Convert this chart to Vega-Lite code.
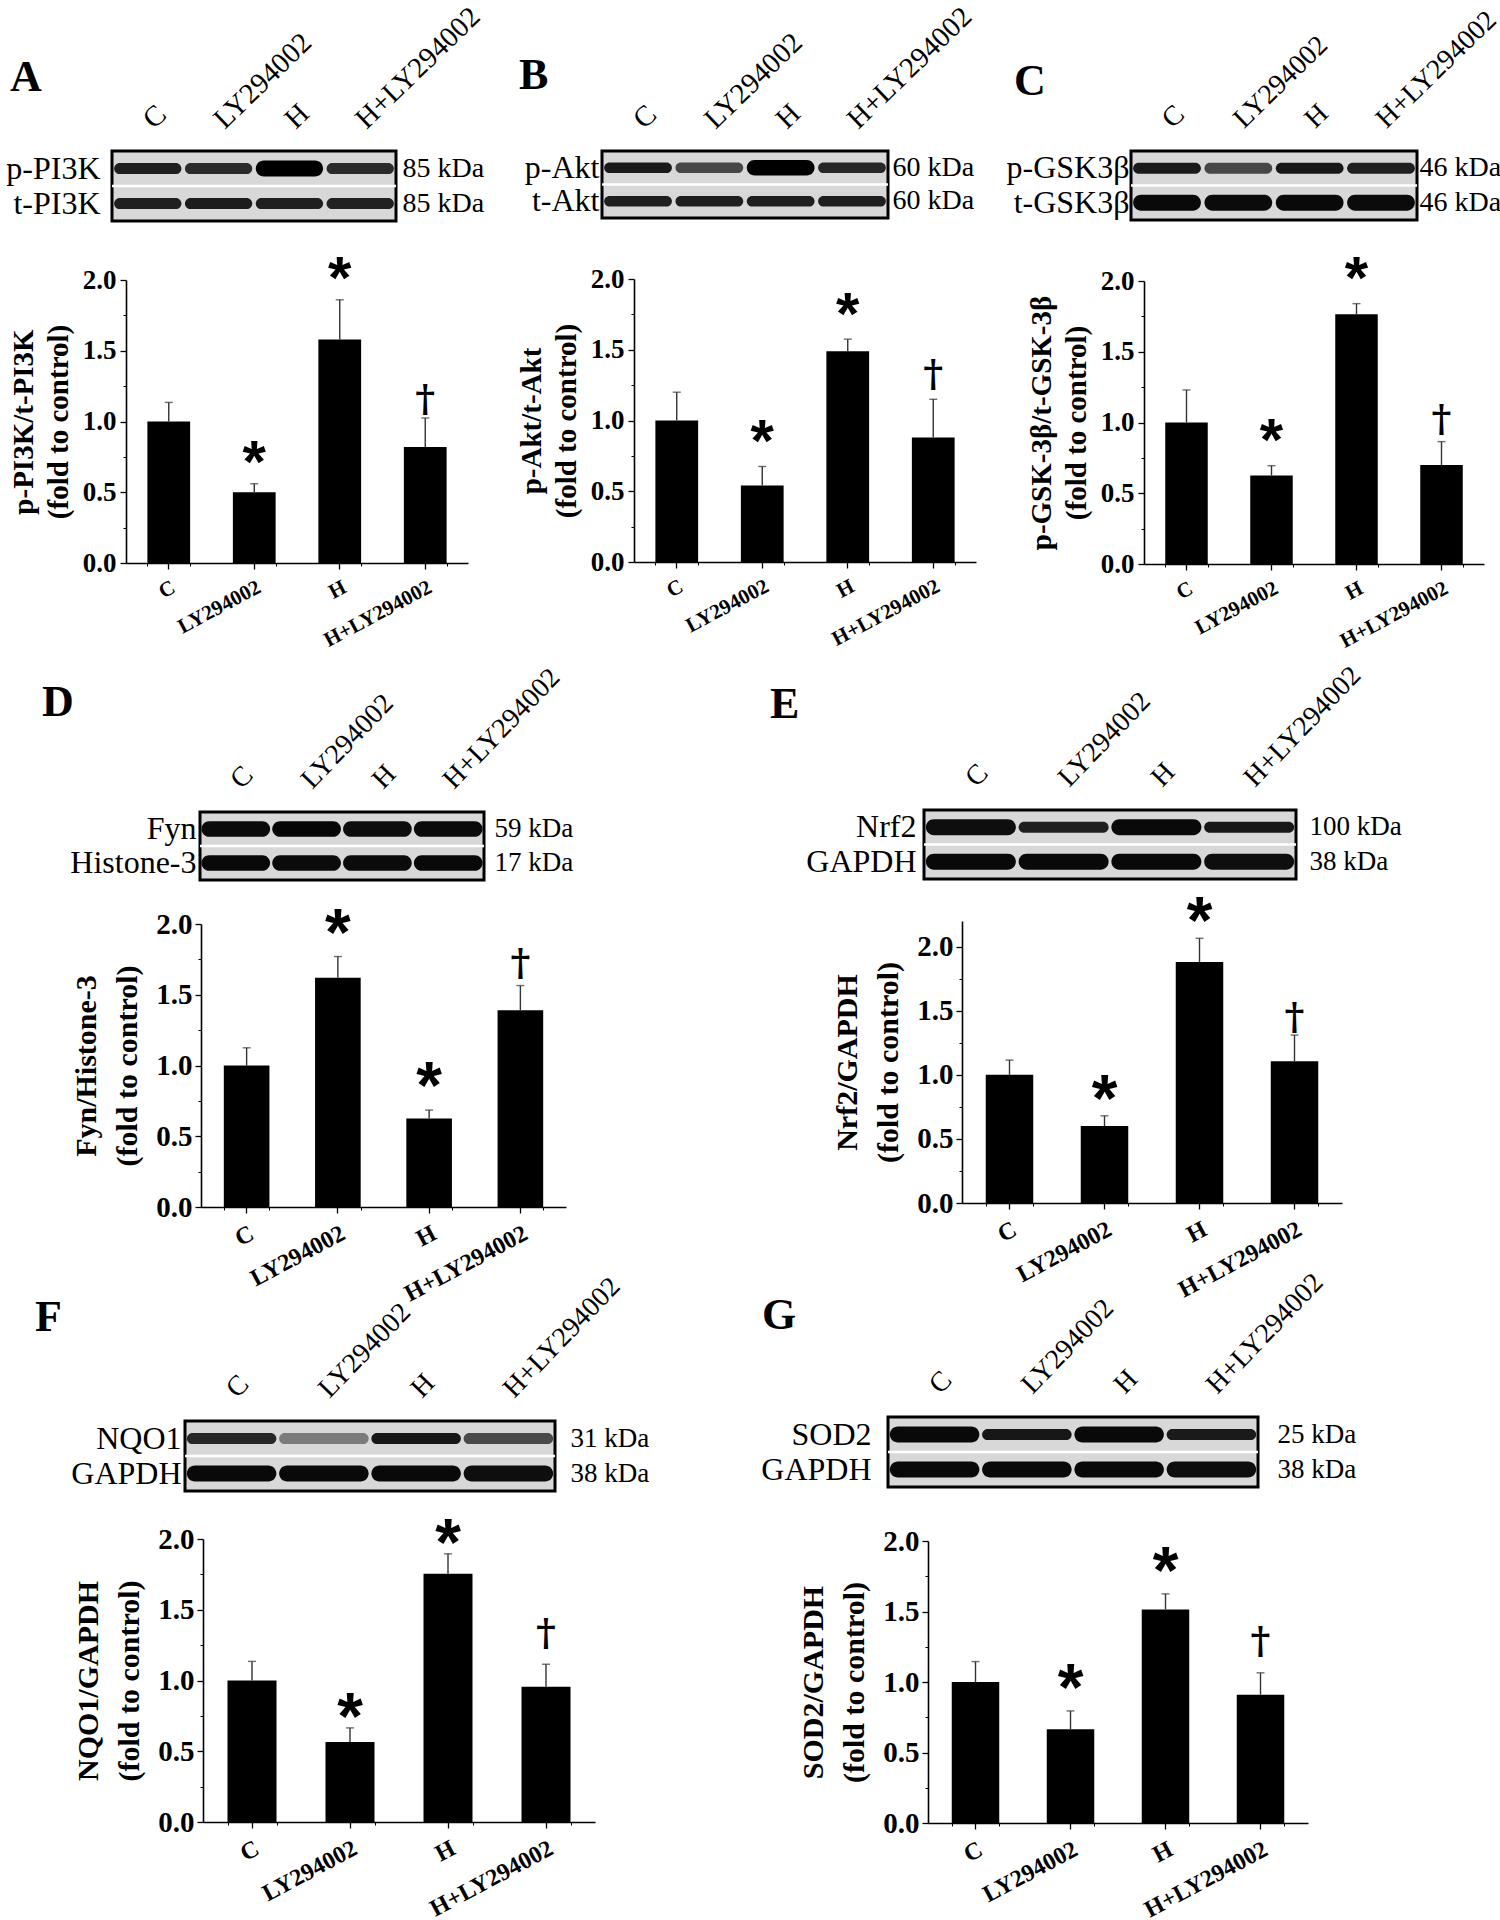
{
"$schema":"https://vega.github.io/schema/vega-lite/v6.json",
"background":"white",
"padding":{"left":4,"top":0,"right":0,"bottom":0},
"config":{"view":{"stroke":null},"font":"Liberation Serif","axis":{"labelFont":"Liberation Serif","titleFont":"Liberation Serif","labelColor":"black","titleColor":"black","domainColor":"black","tickColor":"black","grid":false},"title":{"font":"Liberation Serif","color":"black"}},
"datasets":{
"bars":[
{"p":"A","g":"C","v":1.0,"e":1.135,"s":""},{"p":"A","g":"LY294002","v":0.50,"e":0.56,"s":"*"},{"p":"A","g":"H","v":1.58,"e":1.86,"s":"*"},{"p":"A","g":"H+LY294002","v":0.82,"e":1.025,"s":"†"},
{"p":"B","g":"C","v":1.0,"e":1.20,"s":""},{"p":"B","g":"LY294002","v":0.54,"e":0.675,"s":"*"},{"p":"B","g":"H","v":1.49,"e":1.575,"s":"*"},{"p":"B","g":"H+LY294002","v":0.88,"e":1.15,"s":"†"},
{"p":"C","g":"C","v":1.0,"e":1.23,"s":""},{"p":"C","g":"LY294002","v":0.625,"e":0.695,"s":"*"},{"p":"C","g":"H","v":1.765,"e":1.84,"s":"*"},{"p":"C","g":"H+LY294002","v":0.70,"e":0.865,"s":"†"},
{"p":"D","g":"C","v":1.0,"e":1.125,"s":""},{"p":"D","g":"LY294002","v":1.62,"e":1.77,"s":"*"},{"p":"D","g":"H","v":0.625,"e":0.685,"s":"*"},{"p":"D","g":"H+LY294002","v":1.39,"e":1.565,"s":"†"},
{"p":"E","g":"C","v":1.0,"e":1.115,"s":""},{"p":"E","g":"LY294002","v":0.60,"e":0.68,"s":"*"},{"p":"E","g":"H","v":1.88,"e":2.065,"s":"*"},{"p":"E","g":"H+LY294002","v":1.105,"e":1.31,"s":"†"},
{"p":"F","g":"C","v":1.0,"e":1.135,"s":""},{"p":"F","g":"LY294002","v":0.565,"e":0.665,"s":"*"},{"p":"F","g":"H","v":1.755,"e":1.895,"s":"*"},{"p":"F","g":"H+LY294002","v":0.955,"e":1.115,"s":"†"},
{"p":"G","g":"C","v":1.0,"e":1.145,"s":""},{"p":"G","g":"LY294002","v":0.665,"e":0.795,"s":"*"},{"p":"G","g":"H","v":1.515,"e":1.625,"s":"*"},{"p":"G","g":"H+LY294002","v":0.91,"e":1.065,"s":"†"}
],
"blots":[
{"p":"A","r":"p-PI3K","l":"C","i":0.85},{"p":"A","r":"p-PI3K","l":"LY294002","i":0.78},{"p":"A","r":"p-PI3K","l":"H","i":1.0},{"p":"A","r":"p-PI3K","l":"H+LY294002","i":0.78},
{"p":"A","r":"t-PI3K","l":"C","i":0.85},{"p":"A","r":"t-PI3K","l":"LY294002","i":0.87},{"p":"A","r":"t-PI3K","l":"H","i":0.85},{"p":"A","r":"t-PI3K","l":"H+LY294002","i":0.84},
{"p":"B","r":"p-Akt","l":"C","i":0.88},{"p":"B","r":"p-Akt","l":"LY294002","i":0.62},{"p":"B","r":"p-Akt","l":"H","i":1.0},{"p":"B","r":"p-Akt","l":"H+LY294002","i":0.8},
{"p":"B","r":"t-Akt","l":"C","i":0.85},{"p":"B","r":"t-Akt","l":"LY294002","i":0.85},{"p":"B","r":"t-Akt","l":"H","i":0.85},{"p":"B","r":"t-Akt","l":"H+LY294002","i":0.85},
{"p":"C","r":"p-GSK3β","l":"C","i":0.88},{"p":"C","r":"p-GSK3β","l":"LY294002","i":0.62},{"p":"C","r":"p-GSK3β","l":"H","i":0.9},{"p":"C","r":"p-GSK3β","l":"H+LY294002","i":0.85},
{"p":"C","r":"t-GSK3β","l":"C","i":0.97},{"p":"C","r":"t-GSK3β","l":"LY294002","i":0.96},{"p":"C","r":"t-GSK3β","l":"H","i":0.97},{"p":"C","r":"t-GSK3β","l":"H+LY294002","i":0.96},
{"p":"D","r":"Fyn","l":"C","i":0.96},{"p":"D","r":"Fyn","l":"LY294002","i":0.98},{"p":"D","r":"Fyn","l":"H","i":0.95},{"p":"D","r":"Fyn","l":"H+LY294002","i":0.96},
{"p":"D","r":"Histone-3","l":"C","i":0.97},{"p":"D","r":"Histone-3","l":"LY294002","i":0.96},{"p":"D","r":"Histone-3","l":"H","i":0.96},{"p":"D","r":"Histone-3","l":"H+LY294002","i":0.97},
{"p":"E","r":"Nrf2","l":"C","i":0.95},{"p":"E","r":"Nrf2","l":"LY294002","i":0.85},{"p":"E","r":"Nrf2","l":"H","i":0.97},{"p":"E","r":"Nrf2","l":"H+LY294002","i":0.9},
{"p":"E","r":"GAPDH","l":"C","i":0.97},{"p":"E","r":"GAPDH","l":"LY294002","i":0.97},{"p":"E","r":"GAPDH","l":"H","i":0.97},{"p":"E","r":"GAPDH","l":"H+LY294002","i":0.95},
{"p":"F","r":"NQO1","l":"C","i":0.8},{"p":"F","r":"NQO1","l":"LY294002","i":0.35},{"p":"F","r":"NQO1","l":"H","i":0.9},{"p":"F","r":"NQO1","l":"H+LY294002","i":0.6},
{"p":"F","r":"GAPDH","l":"C","i":0.97},{"p":"F","r":"GAPDH","l":"LY294002","i":0.97},{"p":"F","r":"GAPDH","l":"H","i":0.97},{"p":"F","r":"GAPDH","l":"H+LY294002","i":0.95},
{"p":"G","r":"SOD2","l":"C","i":0.97},{"p":"G","r":"SOD2","l":"LY294002","i":0.9},{"p":"G","r":"SOD2","l":"H","i":0.97},{"p":"G","r":"SOD2","l":"H+LY294002","i":0.88},
{"p":"G","r":"GAPDH","l":"C","i":0.97},{"p":"G","r":"GAPDH","l":"LY294002","i":0.97},{"p":"G","r":"GAPDH","l":"H","i":0.97},{"p":"G","r":"GAPDH","l":"H+LY294002","i":0.95}
]},
"bounds":"flush",
"spacing":659,
"vconcat":[
{"bounds":"flush","spacing":490,"hconcat":[
 {"bounds":"flush","spacing":59,"vconcat":[
  {"width":284,"height":70,
   "title":{"text":"A","anchor":"start","frame":"group","dx":-102,"offset":-133,"fontSize":44,"fontWeight":"bold","baseline":"alphabetic"},
   "view":{"fill":"#d8d8d8","stroke":"black","strokeWidth":3},
   "layer":[
    {"data":{"name":"blots"},"transform":[{"filter":"datum.p=='A' && datum.i<0.95"}],
     "mark":{"type":"rect","height":{"band":0.32},"cornerRadius":6},
     "encoding":{
      "x":{"field":"l","type":"nominal","scale":{"domain":["C","LY294002","H","H+LY294002"],"paddingInner":0.05,"paddingOuter":0.03},"axis":{"orient":"top","title":null,"ticks":false,"domain":false,"labelAngle":-44,"labelAlign":"left","labelBaseline":"middle","labelFontSize":29,"labelPadding":28}},
      "y":{"field":"r","type":"nominal","scale":{"domain":["p-PI3K","t-PI3K"],"paddingInner":0,"paddingOuter":0},"axis":{"orient":"left","title":null,"ticks":false,"domain":false,"labelFontSize":32,"labelPadding":12}},
      "color":{"field":"i","type":"quantitative","scale":{"domain":[0,1],"range":["#c4c4c4","#000000"]},"legend":null}}},
    {"data":{"name":"blots"},"transform":[{"filter":"datum.p=='A' && datum.i>=0.95"}],
     "mark":{"type":"rect","height":{"band":0.46},"cornerRadius":8},
     "encoding":{"x":{"field":"l","type":"nominal"},"y":{"field":"r","type":"nominal","axis":null},"color":{"field":"i","type":"quantitative","legend":null}}},
    {"data":{"values":[{"r":"p-PI3K"}]},
     "mark":{"type":"rule","color":"white","strokeWidth":2.5},
     "encoding":{"y":{"field":"r","type":"nominal","bandPosition":1,"scale":{"domain":["p-PI3K","t-PI3K"],"paddingInner":0,"paddingOuter":0},"axis":{"orient":"right","title":null,"ticks":false,"domain":false,"labelFontSize":28,"labelPadding":6,"labelExpr":"'85 kDa'"}}}}],
   "resolve":{"axis":{"y":"independent"}}},
  {"width":356,"height":283,"data":{"name":"bars"},"transform":[{"filter":"datum.p=='A'"}],
   "encoding":{"x":{"field":"g","type":"nominal","scale":{"domain":["C","LY294002","H","H+LY294002"],"range":[14,356],"paddingInner":0.5,"paddingOuter":0.25},"axis":null}},
   "layer":[
    {"mark":{"type":"bar","color":"black"},
     "encoding":{
      "x":{"field":"g","type":"nominal","axis":{"orient":"bottom","title":null,"labelAngle":-28,"labelAlign":"right","labelBaseline":"top","labelFontSize":21,"labelFontWeight":"bold","tickSize":6,"tickWidth":1.3,"labelPadding":7,"domainWidth":1.6}},
      "y":{"field":"v","type":"quantitative","scale":{"domain":[0,2],"nice":false},"axis":{"orient":"left","offset":-14,"values":[0,0.5,1,1.5,2],"format":".1f","title":["p-PI3K/t-PI3K","(fold to control)"],"titleFontSize":29,"titleFontWeight":"bold","titleLineHeight":35,"titlePadding":9,"labelFontSize":27,"labelFontWeight":"bold","tickSize":6,"tickWidth":1.3,"labelPadding":4,"domainWidth":1.6}}}},
    {"mark":{"type":"rule","color":"#333","strokeWidth":1.4},
     "encoding":{
      "x":{"field":"g","type":"nominal","axis":{"orient":"bottom","tickBand":"extent","labels":false,"domain":false,"tickSize":3,"tickWidth":1,"title":null}},
      "y":{"field":"v","type":"quantitative","axis":{"orient":"left","offset":-14,"values":[0.25,0.75,1.25,1.75],"labels":false,"domain":false,"tickSize":3,"tickWidth":1,"title":null}},
      "y2":{"field":"e"}}},
    {"mark":{"type":"tick","color":"#333","thickness":1.4,"size":8},"encoding":{"y":{"field":"e","type":"quantitative","axis":null}}},
    {"transform":[{"filter":"datum.s=='*'"}],"mark":{"type":"text","font":"Liberation Sans","fontWeight":"bold","fontSize":60,"baseline":"alphabetic","dy":-2,"color":"black"},"encoding":{"y":{"field":"e","type":"quantitative","axis":null},"text":{"field":"s"}}},
    {"transform":[{"filter":"datum.s=='†'"}],"mark":{"type":"text","font":"DejaVu Serif","fontWeight":"bold","fontSize":38,"baseline":"alphabetic","dy":-7,"color":"black"},"encoding":{"y":{"field":"e","type":"quantitative","axis":null},"text":{"field":"s"}}}],
   "resolve":{"axis":{"x":"independent","y":"independent"}}}
 ]},
 {"bounds":"flush","spacing":529,"hconcat":[
  {"bounds":"flush","spacing":61,"vconcat":[
   {"width":286,"height":67,
    "title":{"text":"B","anchor":"start","frame":"group","dx":-83,"offset":-131,"fontSize":44,"fontWeight":"bold","baseline":"alphabetic"},
    "view":{"fill":"#d8d8d8","stroke":"black","strokeWidth":3},
    "layer":[
     {"data":{"name":"blots"},"transform":[{"filter":"datum.p=='B' && datum.i<0.95"}],
      "mark":{"type":"rect","height":{"band":0.32},"cornerRadius":6},
      "encoding":{
       "x":{"field":"l","type":"nominal","scale":{"domain":["C","LY294002","H","H+LY294002"],"paddingInner":0.05,"paddingOuter":0.03},"axis":{"orient":"top","title":null,"ticks":false,"domain":false,"labelAngle":-44,"labelAlign":"left","labelBaseline":"middle","labelFontSize":29,"labelPadding":28}},
       "y":{"field":"r","type":"nominal","scale":{"domain":["p-Akt","t-Akt"],"paddingInner":0,"paddingOuter":0},"axis":{"orient":"left","title":null,"ticks":false,"domain":false,"labelFontSize":32,"labelPadding":3}},
       "color":{"field":"i","type":"quantitative","scale":{"domain":[0,1],"range":["#c4c4c4","#000000"]},"legend":null}}},
     {"data":{"name":"blots"},"transform":[{"filter":"datum.p=='B' && datum.i>=0.95"}],
      "mark":{"type":"rect","height":{"band":0.46},"cornerRadius":8},
      "encoding":{"x":{"field":"l","type":"nominal"},"y":{"field":"r","type":"nominal","axis":null},"color":{"field":"i","type":"quantitative","legend":null}}},
     {"data":{"values":[{"r":"p-Akt"}]},
      "mark":{"type":"rule","color":"white","strokeWidth":2.5},
      "encoding":{"y":{"field":"r","type":"nominal","bandPosition":1,"scale":{"domain":["p-Akt","t-Akt"],"paddingInner":0,"paddingOuter":0},"axis":{"orient":"right","title":null,"ticks":false,"domain":false,"labelFontSize":28,"labelPadding":4,"labelExpr":"'60 kDa'"}}}}],
    "resolve":{"axis":{"y":"independent"}}},
   {"width":374,"height":283,"data":{"name":"bars"},"transform":[{"filter":"datum.p=='B'"}],
    "encoding":{"x":{"field":"g","type":"nominal","scale":{"domain":["C","LY294002","H","H+LY294002"],"range":[32,374],"paddingInner":0.5,"paddingOuter":0.25},"axis":null}},
    "layer":[
     {"mark":{"type":"bar","color":"black"},
      "encoding":{
       "x":{"field":"g","type":"nominal","axis":{"orient":"bottom","title":null,"labelAngle":-28,"labelAlign":"right","labelBaseline":"top","labelFontSize":21,"labelFontWeight":"bold","tickSize":6,"tickWidth":1.3,"labelPadding":7,"domainWidth":1.6}},
       "y":{"field":"v","type":"quantitative","scale":{"domain":[0,2],"nice":false},"axis":{"orient":"left","offset":-32,"values":[0,0.5,1,1.5,2],"format":".1f","title":["p-Akt/t-Akt","(fold to control)"],"titleFontSize":29,"titleFontWeight":"bold","titleLineHeight":35,"titlePadding":9,"labelFontSize":27,"labelFontWeight":"bold","tickSize":6,"tickWidth":1.3,"labelPadding":4,"domainWidth":1.6}}}},
     {"mark":{"type":"rule","color":"#333","strokeWidth":1.4},
      "encoding":{
       "x":{"field":"g","type":"nominal","axis":{"orient":"bottom","tickBand":"extent","labels":false,"domain":false,"tickSize":3,"tickWidth":1,"title":null}},
       "y":{"field":"v","type":"quantitative","axis":{"orient":"left","offset":-32,"values":[0.25,0.75,1.25,1.75],"labels":false,"domain":false,"tickSize":3,"tickWidth":1,"title":null}},
       "y2":{"field":"e"}}},
     {"mark":{"type":"tick","color":"#333","thickness":1.4,"size":8},"encoding":{"y":{"field":"e","type":"quantitative","axis":null}}},
     {"transform":[{"filter":"datum.s=='*'"}],"mark":{"type":"text","font":"Liberation Sans","fontWeight":"bold","fontSize":60,"baseline":"alphabetic","dy":-5,"color":"black"},"encoding":{"y":{"field":"e","type":"quantitative","axis":null},"text":{"field":"s"}}},
     {"transform":[{"filter":"datum.s=='†'"}],"mark":{"type":"text","font":"DejaVu Serif","fontWeight":"bold","fontSize":38,"baseline":"alphabetic","dy":-13,"color":"black"},"encoding":{"y":{"field":"e","type":"quantitative","axis":null},"text":{"field":"s"}}}],
    "resolve":{"axis":{"x":"independent","y":"independent"}}}
  ]},
  {"bounds":"flush","spacing":61,"vconcat":[
   {"width":286,"height":69,
    "title":{"text":"C","anchor":"start","frame":"group","dx":-117,"offset":-133,"fontSize":44,"fontWeight":"bold","baseline":"alphabetic"},
    "view":{"fill":"#d8d8d8","stroke":"black","strokeWidth":3},
    "layer":[
     {"data":{"name":"blots"},"transform":[{"filter":"datum.p=='C' && datum.i<0.95"}],
      "mark":{"type":"rect","height":{"band":0.32},"cornerRadius":6},
      "encoding":{
       "x":{"field":"l","type":"nominal","scale":{"domain":["C","LY294002","H","H+LY294002"],"paddingInner":0.05,"paddingOuter":0.03},"axis":{"orient":"top","title":null,"ticks":false,"domain":false,"labelAngle":-44,"labelAlign":"left","labelBaseline":"middle","labelFontSize":28,"labelPadding":28}},
       "y":{"field":"r","type":"nominal","scale":{"domain":["p-GSK3β","t-GSK3β"],"paddingInner":0,"paddingOuter":0},"axis":{"orient":"left","title":null,"ticks":false,"domain":false,"labelFontSize":32,"labelPadding":2}},
       "color":{"field":"i","type":"quantitative","scale":{"domain":[0,1],"range":["#c4c4c4","#000000"]},"legend":null}}},
     {"data":{"name":"blots"},"transform":[{"filter":"datum.p=='C' && datum.i>=0.95"}],
      "mark":{"type":"rect","height":{"band":0.46},"cornerRadius":8},
      "encoding":{"x":{"field":"l","type":"nominal"},"y":{"field":"r","type":"nominal","axis":null},"color":{"field":"i","type":"quantitative","legend":null}}},
     {"data":{"values":[{"r":"p-GSK3β"}]},
      "mark":{"type":"rule","color":"white","strokeWidth":2.5},
      "encoding":{"y":{"field":"r","type":"nominal","bandPosition":1,"scale":{"domain":["p-GSK3β","t-GSK3β"],"paddingInner":0,"paddingOuter":0},"axis":{"orient":"right","title":null,"ticks":false,"domain":false,"labelFontSize":28,"labelPadding":2,"labelExpr":"'46 kDa'"}}}}],
    "resolve":{"axis":{"y":"independent"}}},
   {"width":353,"height":283,"data":{"name":"bars"},"transform":[{"filter":"datum.p=='C'"}],
    "encoding":{"x":{"field":"g","type":"nominal","scale":{"domain":["C","LY294002","H","H+LY294002"],"range":[13,353],"paddingInner":0.5,"paddingOuter":0.25},"axis":null}},
    "layer":[
     {"mark":{"type":"bar","color":"black"},
      "encoding":{
       "x":{"field":"g","type":"nominal","axis":{"orient":"bottom","title":null,"labelAngle":-28,"labelAlign":"right","labelBaseline":"top","labelFontSize":21,"labelFontWeight":"bold","tickSize":6,"tickWidth":1.3,"labelPadding":7,"domainWidth":1.6}},
       "y":{"field":"v","type":"quantitative","scale":{"domain":[0,2],"nice":false},"axis":{"orient":"left","offset":-13,"values":[0,0.5,1,1.5,2],"format":".1f","title":["p-GSK-3β/t-GSK-3β","(fold to control)"],"titleFontSize":29,"titleFontWeight":"bold","titleLineHeight":35,"titlePadding":9,"labelFontSize":27,"labelFontWeight":"bold","tickSize":6,"tickWidth":1.3,"labelPadding":4,"domainWidth":1.6}}}},
     {"mark":{"type":"rule","color":"#333","strokeWidth":1.4},
      "encoding":{
       "x":{"field":"g","type":"nominal","axis":{"orient":"bottom","tickBand":"extent","labels":false,"domain":false,"tickSize":3,"tickWidth":1,"title":null}},
       "y":{"field":"v","type":"quantitative","axis":{"orient":"left","offset":-13,"values":[0.25,0.75,1.25,1.75],"labels":false,"domain":false,"tickSize":3,"tickWidth":1,"title":null}},
       "y2":{"field":"e"}}},
     {"mark":{"type":"tick","color":"#333","thickness":1.4,"size":8},"encoding":{"y":{"field":"e","type":"quantitative","axis":null}}},
     {"transform":[{"filter":"datum.s=='*'"}],"mark":{"type":"text","font":"Liberation Sans","fontWeight":"bold","fontSize":60,"baseline":"alphabetic","dy":-6,"color":"black"},"encoding":{"y":{"field":"e","type":"quantitative","axis":null},"text":{"field":"s"}}},
     {"transform":[{"filter":"datum.s=='†'"}],"mark":{"type":"text","font":"DejaVu Serif","fontWeight":"bold","fontSize":38,"baseline":"alphabetic","dy":-11,"color":"black"},"encoding":{"y":{"field":"e","type":"quantitative","axis":null},"text":{"field":"s"}}}],
    "resolve":{"axis":{"x":"independent","y":"independent"}}}
  ]}
 ]}
]},
{"bounds":"flush","spacing":607,"vconcat":[
 {"bounds":"flush","spacing":87,"hconcat":[
  {"width":1,"height":1,"data":{"values":[{"a":1}]},"mark":{"type":"point","opacity":0},"encoding":{}},
  {"bounds":"flush","spacing":724,"hconcat":[
   {"bounds":"flush","spacing":1,"vconcat":[
    {"width":1,"height":1,"data":{"values":[{"a":1}]},"mark":{"type":"point","opacity":0},"encoding":{}},
    {"bounds":"flush","spacing":44,"vconcat":[
     {"width":284,"height":68,
      "title":{"text":"D","anchor":"start","frame":"group","dx":-158,"offset":-97,"fontSize":44,"fontWeight":"bold","baseline":"alphabetic"},
      "view":{"fill":"#d8d8d8","stroke":"black","strokeWidth":3},
      "layer":[
       {"data":{"name":"blots"},"transform":[{"filter":"datum.p=='D' && datum.i<0.95"}],
        "mark":{"type":"rect","height":{"band":0.32},"cornerRadius":6},
        "encoding":{
         "x":{"field":"l","type":"nominal","scale":{"domain":["C","LY294002","H","H+LY294002"],"paddingInner":0.03,"paddingOuter":0.02},"axis":{"orient":"top","title":null,"ticks":false,"domain":false,"labelAngle":-46,"labelAlign":"left","labelBaseline":"middle","labelFontSize":28,"labelPadding":28}},
         "y":{"field":"r","type":"nominal","scale":{"domain":["Fyn","Histone-3"],"paddingInner":0,"paddingOuter":0},"axis":{"orient":"left","title":null,"ticks":false,"domain":false,"labelFontSize":32,"labelPadding":4}},
         "color":{"field":"i","type":"quantitative","scale":{"domain":[0,1],"range":["#c4c4c4","#000000"]},"legend":null}}},
       {"data":{"name":"blots"},"transform":[{"filter":"datum.p=='D' && datum.i>=0.95"}],
        "mark":{"type":"rect","height":{"band":0.46},"cornerRadius":8},
        "encoding":{"x":{"field":"l","type":"nominal"},"y":{"field":"r","type":"nominal","axis":null},"color":{"field":"i","type":"quantitative","legend":null}}},
       {"data":{"values":[{"r":"Fyn"}]},
        "mark":{"type":"rule","color":"white","strokeWidth":2.5},
        "encoding":{"y":{"field":"r","type":"nominal","bandPosition":1,"scale":{"domain":["Fyn","Histone-3"],"paddingInner":0,"paddingOuter":0},"axis":{"orient":"right","title":null,"ticks":false,"domain":false,"labelFontSize":27,"labelPadding":10,"labelExpr":"datum.value=='Fyn'?'59 kDa':'17 kDa'"}}}}],
      "resolve":{"axis":{"y":"independent"}}},
     {"width":366,"height":283,"data":{"name":"bars"},"transform":[{"filter":"datum.p=='D'"}],
      "encoding":{"x":{"field":"g","type":"nominal","scale":{"domain":["C","LY294002","H","H+LY294002"],"range":[1,366],"paddingInner":0.5,"paddingOuter":0.25},"axis":null}},
      "layer":[
       {"mark":{"type":"bar","color":"black"},
        "encoding":{
         "x":{"field":"g","type":"nominal","axis":{"orient":"bottom","title":null,"labelAngle":-28,"labelAlign":"right","labelBaseline":"top","labelFontSize":24,"labelFontWeight":"bold","tickSize":6,"tickWidth":1.3,"labelPadding":8,"domainWidth":1.6}},
         "y":{"field":"v","type":"quantitative","scale":{"domain":[0,2],"nice":false},"axis":{"orient":"left","offset":-1,"values":[0,0.5,1,1.5,2],"format":".1f","title":["Fyn/Histone-3","(fold to control)"],"titleFontSize":30,"titleFontWeight":"bold","titleLineHeight":41,"titlePadding":13,"labelFontSize":29,"labelFontWeight":"bold","tickSize":6,"tickWidth":1.3,"labelPadding":3,"domainWidth":1.6}}}},
       {"mark":{"type":"rule","color":"#333","strokeWidth":1.4},
        "encoding":{
         "x":{"field":"g","type":"nominal","axis":{"orient":"bottom","tickBand":"extent","labels":false,"domain":false,"tickSize":3,"tickWidth":1,"title":null}},
         "y":{"field":"v","type":"quantitative","axis":{"orient":"left","offset":-1,"values":[0.25,0.75,1.25,1.75],"labels":false,"domain":false,"tickSize":3,"tickWidth":1,"title":null}},
         "y2":{"field":"e"}}},
       {"mark":{"type":"tick","color":"#333","thickness":1.4,"size":8},"encoding":{"y":{"field":"e","type":"quantitative","axis":null}}},
       {"transform":[{"filter":"datum.s=='*'"}],"mark":{"type":"text","font":"Liberation Sans","fontWeight":"bold","fontSize":66,"baseline":"alphabetic","dy":-2,"color":"black"},"encoding":{"y":{"field":"e","type":"quantitative","axis":null},"text":{"field":"s"}}},
       {"transform":[{"filter":"datum.s=='†'"}],"mark":{"type":"text","font":"DejaVu Serif","fontWeight":"bold","fontSize":38,"baseline":"alphabetic","dy":-11,"color":"black"},"encoding":{"y":{"field":"e","type":"quantitative","axis":null},"text":{"field":"s"}}}],
      "resolve":{"axis":{"x":"independent","y":"independent"}}}
    ]}
   ]},
   {"bounds":"flush","spacing":42,"vconcat":[
    {"width":372,"height":69,
     "title":{"text":"E","anchor":"start","frame":"group","dx":-154,"offset":-101,"fontSize":44,"fontWeight":"bold","baseline":"alphabetic"},
     "view":{"fill":"#d8d8d8","stroke":"black","strokeWidth":3},
     "layer":[
      {"data":{"name":"blots"},"transform":[{"filter":"datum.p=='E' && datum.i<0.95"}],
       "mark":{"type":"rect","height":{"band":0.32},"cornerRadius":6},
       "encoding":{
        "x":{"field":"l","type":"nominal","scale":{"domain":["C","LY294002","H","H+LY294002"],"paddingInner":0.03,"paddingOuter":0.02},"axis":{"orient":"top","title":null,"ticks":false,"domain":false,"labelAngle":-46,"labelAlign":"left","labelBaseline":"middle","labelFontSize":28,"labelPadding":28}},
        "y":{"field":"r","type":"nominal","scale":{"domain":["Nrf2","GAPDH"],"paddingInner":0,"paddingOuter":0},"axis":{"orient":"left","title":null,"ticks":false,"domain":false,"labelFontSize":32,"labelPadding":8}},
        "color":{"field":"i","type":"quantitative","scale":{"domain":[0,1],"range":["#c4c4c4","#000000"]},"legend":null}}},
      {"data":{"name":"blots"},"transform":[{"filter":"datum.p=='E' && datum.i>=0.95"}],
       "mark":{"type":"rect","height":{"band":0.46},"cornerRadius":8},
       "encoding":{"x":{"field":"l","type":"nominal"},"y":{"field":"r","type":"nominal","axis":null},"color":{"field":"i","type":"quantitative","legend":null}}},
      {"data":{"values":[{"r":"Nrf2"}]},
       "mark":{"type":"rule","color":"white","strokeWidth":2.5},
       "encoding":{"y":{"field":"r","type":"nominal","bandPosition":1,"scale":{"domain":["Nrf2","GAPDH"],"paddingInner":0,"paddingOuter":0},"axis":{"orient":"right","title":null,"ticks":false,"domain":false,"labelFontSize":27,"labelPadding":13,"labelExpr":"datum.value=='Nrf2'?'100 kDa':'38 kDa'"}}}}],
     "resolve":{"axis":{"y":"independent"}}},
    {"width":418,"height":282,"data":{"name":"bars"},"transform":[{"filter":"datum.p=='E'"}],
     "encoding":{"x":{"field":"g","type":"nominal","scale":{"domain":["C","LY294002","H","H+LY294002"],"range":[38,418],"paddingInner":0.5,"paddingOuter":0.25},"axis":null}},
     "layer":[
      {"mark":{"type":"bar","color":"black"},
       "encoding":{
        "x":{"field":"g","type":"nominal","axis":{"orient":"bottom","title":null,"labelAngle":-28,"labelAlign":"right","labelBaseline":"top","labelFontSize":24,"labelFontWeight":"bold","tickSize":6,"tickWidth":1.3,"labelPadding":8,"domainWidth":1.6}},
        "y":{"field":"v","type":"quantitative","scale":{"domain":[0,2.2],"nice":false},"axis":{"orient":"left","offset":-38,"values":[0,0.5,1,1.5,2],"format":".1f","title":["Nrf2/GAPDH","(fold to control)"],"titleFontSize":30,"titleFontWeight":"bold","titleLineHeight":41,"titlePadding":13,"labelFontSize":29,"labelFontWeight":"bold","tickSize":6,"tickWidth":1.3,"labelPadding":3,"domainWidth":1.6}}}},
      {"mark":{"type":"rule","color":"#333","strokeWidth":1.4},
       "encoding":{
        "x":{"field":"g","type":"nominal","axis":{"orient":"bottom","tickBand":"extent","labels":false,"domain":false,"tickSize":3,"tickWidth":1,"title":null}},
        "y":{"field":"v","type":"quantitative","axis":{"orient":"left","offset":-38,"values":[0.25,0.75,1.25,1.75],"labels":false,"domain":false,"tickSize":3,"tickWidth":1,"title":null}},
        "y2":{"field":"e"}}},
      {"mark":{"type":"tick","color":"#333","thickness":1.4,"size":8},"encoding":{"y":{"field":"e","type":"quantitative","axis":null}}},
      {"transform":[{"filter":"datum.s=='*'"}],"mark":{"type":"text","font":"Liberation Sans","fontWeight":"bold","fontSize":66,"baseline":"alphabetic","dy":5,"color":"black"},"encoding":{"y":{"field":"e","type":"quantitative","axis":null},"text":{"field":"s"}}},
      {"transform":[{"filter":"datum.s=='†'"}],"mark":{"type":"text","font":"DejaVu Serif","fontWeight":"bold","fontSize":38,"baseline":"alphabetic","dy":-6,"color":"black"},"encoding":{"y":{"field":"e","type":"quantitative","axis":null},"text":{"field":"s"}}}],
     "resolve":{"axis":{"x":"independent","y":"independent"}}}
   ]}
  ]}
 ]},
 {"bounds":"flush","spacing":72,"hconcat":[
  {"width":1,"height":1,"data":{"values":[{"a":1}]},"mark":{"type":"point","opacity":0},"encoding":{}},
  {"bounds":"flush","spacing":703,"hconcat":[
   {"bounds":"flush","spacing":3,"vconcat":[
    {"width":1,"height":1,"data":{"values":[{"a":1}]},"mark":{"type":"point","opacity":0},"encoding":{}},
    {"bounds":"flush","spacing":48,"vconcat":[
     {"width":370,"height":70,
      "title":{"text":"F","anchor":"start","frame":"group","dx":-150,"offset":-103,"fontSize":44,"fontWeight":"bold","baseline":"alphabetic"},
      "view":{"fill":"#d8d8d8","stroke":"black","strokeWidth":3},
      "layer":[
       {"data":{"name":"blots"},"transform":[{"filter":"datum.p=='F' && datum.i<0.95"}],
        "mark":{"type":"rect","height":{"band":0.32},"cornerRadius":6},
        "encoding":{
         "x":{"field":"l","type":"nominal","scale":{"domain":["C","LY294002","H","H+LY294002"],"paddingInner":0.03,"paddingOuter":0.02},"axis":{"orient":"top","title":null,"ticks":false,"domain":false,"labelAngle":-46,"labelAlign":"left","labelBaseline":"middle","labelFontSize":28,"labelPadding":28}},
         "y":{"field":"r","type":"nominal","scale":{"domain":["NQO1","GAPDH"],"paddingInner":0,"paddingOuter":0},"axis":{"orient":"left","title":null,"ticks":false,"domain":false,"labelFontSize":32,"labelPadding":4}},
         "color":{"field":"i","type":"quantitative","scale":{"domain":[0,1],"range":["#c4c4c4","#000000"]},"legend":null}}},
       {"data":{"name":"blots"},"transform":[{"filter":"datum.p=='F' && datum.i>=0.95"}],
        "mark":{"type":"rect","height":{"band":0.46},"cornerRadius":8},
        "encoding":{"x":{"field":"l","type":"nominal"},"y":{"field":"r","type":"nominal","axis":null},"color":{"field":"i","type":"quantitative","legend":null}}},
       {"data":{"values":[{"r":"NQO1"}]},
        "mark":{"type":"rule","color":"white","strokeWidth":2.5},
        "encoding":{"y":{"field":"r","type":"nominal","bandPosition":1,"scale":{"domain":["NQO1","GAPDH"],"paddingInner":0,"paddingOuter":0},"axis":{"orient":"right","title":null,"ticks":false,"domain":false,"labelFontSize":27,"labelPadding":15,"labelExpr":"datum.value=='NQO1'?'31 kDa':'38 kDa'"}}}}],
      "resolve":{"axis":{"y":"independent"}}},
     {"width":410,"height":283,"data":{"name":"bars"},"transform":[{"filter":"datum.p=='F'"}],
      "encoding":{"x":{"field":"g","type":"nominal","scale":{"domain":["C","LY294002","H","H+LY294002"],"range":[18,410],"paddingInner":0.5,"paddingOuter":0.25},"axis":null}},
      "layer":[
       {"mark":{"type":"bar","color":"black"},
        "encoding":{
         "x":{"field":"g","type":"nominal","axis":{"orient":"bottom","title":null,"labelAngle":-28,"labelAlign":"right","labelBaseline":"top","labelFontSize":24,"labelFontWeight":"bold","tickSize":6,"tickWidth":1.3,"labelPadding":8,"domainWidth":1.6}},
         "y":{"field":"v","type":"quantitative","scale":{"domain":[0,2],"nice":false},"axis":{"orient":"left","offset":-18,"values":[0,0.5,1,1.5,2],"format":".1f","title":["NQO1/GAPDH","(fold to control)"],"titleFontSize":30,"titleFontWeight":"bold","titleLineHeight":41,"titlePadding":13,"labelFontSize":29,"labelFontWeight":"bold","tickSize":6,"tickWidth":1.3,"labelPadding":3,"domainWidth":1.6}}}},
       {"mark":{"type":"rule","color":"#333","strokeWidth":1.4},
        "encoding":{
         "x":{"field":"g","type":"nominal","axis":{"orient":"bottom","tickBand":"extent","labels":false,"domain":false,"tickSize":3,"tickWidth":1,"title":null}},
         "y":{"field":"v","type":"quantitative","axis":{"orient":"left","offset":-18,"values":[0.25,0.75,1.25,1.75],"labels":false,"domain":false,"tickSize":3,"tickWidth":1,"title":null}},
         "y2":{"field":"e"}}},
       {"mark":{"type":"tick","color":"#333","thickness":1.4,"size":8},"encoding":{"y":{"field":"e","type":"quantitative","axis":null}}},
       {"transform":[{"filter":"datum.s=='*'"}],"mark":{"type":"text","font":"Liberation Sans","fontWeight":"bold","fontSize":66,"baseline":"alphabetic","dy":11,"color":"black"},"encoding":{"y":{"field":"e","type":"quantitative","axis":null},"text":{"field":"s"}}},
       {"transform":[{"filter":"datum.s=='†'"}],"mark":{"type":"text","font":"DejaVu Serif","fontWeight":"bold","fontSize":38,"baseline":"alphabetic","dy":-19,"color":"black"},"encoding":{"y":{"field":"e","type":"quantitative","axis":null},"text":{"field":"s"}}}],
      "resolve":{"axis":{"x":"independent","y":"independent"}}}
    ]}
   ]},
   {"bounds":"flush","spacing":54,"vconcat":[
    {"width":370,"height":70,
     "title":{"text":"G","anchor":"start","frame":"group","dx":-126,"offset":-105,"fontSize":44,"fontWeight":"bold","baseline":"alphabetic"},
     "view":{"fill":"#d8d8d8","stroke":"black","strokeWidth":3},
     "layer":[
      {"data":{"name":"blots"},"transform":[{"filter":"datum.p=='G' && datum.i<0.95"}],
       "mark":{"type":"rect","height":{"band":0.32},"cornerRadius":6},
       "encoding":{
        "x":{"field":"l","type":"nominal","scale":{"domain":["C","LY294002","H","H+LY294002"],"paddingInner":0.03,"paddingOuter":0.02},"axis":{"orient":"top","title":null,"ticks":false,"domain":false,"labelAngle":-46,"labelAlign":"left","labelBaseline":"middle","labelFontSize":28,"labelPadding":28}},
        "y":{"field":"r","type":"nominal","scale":{"domain":["SOD2","GAPDH"],"paddingInner":0,"paddingOuter":0},"axis":{"orient":"left","title":null,"ticks":false,"domain":false,"labelFontSize":32,"labelPadding":17}},
        "color":{"field":"i","type":"quantitative","scale":{"domain":[0,1],"range":["#c4c4c4","#000000"]},"legend":null}}},
      {"data":{"name":"blots"},"transform":[{"filter":"datum.p=='G' && datum.i>=0.95"}],
       "mark":{"type":"rect","height":{"band":0.46},"cornerRadius":8},
       "encoding":{"x":{"field":"l","type":"nominal"},"y":{"field":"r","type":"nominal","axis":null},"color":{"field":"i","type":"quantitative","legend":null}}},
      {"data":{"values":[{"r":"SOD2"}]},
       "mark":{"type":"rule","color":"white","strokeWidth":2.5},
       "encoding":{"y":{"field":"r","type":"nominal","bandPosition":1,"scale":{"domain":["SOD2","GAPDH"],"paddingInner":0,"paddingOuter":0},"axis":{"orient":"right","title":null,"ticks":false,"domain":false,"labelFontSize":27,"labelPadding":19,"labelExpr":"datum.value=='SOD2'?'25 kDa':'38 kDa'"}}}}],
     "resolve":{"axis":{"y":"independent"}}},
    {"width":420,"height":282,"data":{"name":"bars"},"transform":[{"filter":"datum.p=='G'"}],
     "encoding":{"x":{"field":"g","type":"nominal","scale":{"domain":["C","LY294002","H","H+LY294002"],"range":[40,420],"paddingInner":0.5,"paddingOuter":0.25},"axis":null}},
     "layer":[
      {"mark":{"type":"bar","color":"black"},
       "encoding":{
        "x":{"field":"g","type":"nominal","axis":{"orient":"bottom","title":null,"labelAngle":-28,"labelAlign":"right","labelBaseline":"top","labelFontSize":24,"labelFontWeight":"bold","tickSize":6,"tickWidth":1.3,"labelPadding":8,"domainWidth":1.6}},
        "y":{"field":"v","type":"quantitative","scale":{"domain":[0,2],"nice":false},"axis":{"orient":"left","offset":-40,"values":[0,0.5,1,1.5,2],"format":".1f","title":["SOD2/GAPDH","(fold to control)"],"titleFontSize":30,"titleFontWeight":"bold","titleLineHeight":41,"titlePadding":13,"labelFontSize":29,"labelFontWeight":"bold","tickSize":6,"tickWidth":1.3,"labelPadding":3,"domainWidth":1.6}}}},
      {"mark":{"type":"rule","color":"#333","strokeWidth":1.4},
       "encoding":{
        "x":{"field":"g","type":"nominal","axis":{"orient":"bottom","tickBand":"extent","labels":false,"domain":false,"tickSize":3,"tickWidth":1,"title":null}},
        "y":{"field":"v","type":"quantitative","axis":{"orient":"left","offset":-40,"values":[0.25,0.75,1.25,1.75],"labels":false,"domain":false,"tickSize":3,"tickWidth":1,"title":null}},
        "y2":{"field":"e"}}},
      {"mark":{"type":"tick","color":"#333","thickness":1.4,"size":8},"encoding":{"y":{"field":"e","type":"quantitative","axis":null}}},
      {"transform":[{"filter":"datum.s=='*'"}],"mark":{"type":"text","font":"Liberation Sans","fontWeight":"bold","fontSize":66,"baseline":"alphabetic","dy":-1,"color":"black"},"encoding":{"y":{"field":"e","type":"quantitative","axis":null},"text":{"field":"s"}}},
      {"transform":[{"filter":"datum.s=='†'"}],"mark":{"type":"text","font":"DejaVu Serif","fontWeight":"bold","fontSize":38,"baseline":"alphabetic","dy":-20,"color":"black"},"encoding":{"y":{"field":"e","type":"quantitative","axis":null},"text":{"field":"s"}}}],
     "resolve":{"axis":{"x":"independent","y":"independent"}}}
   ]}
  ]}
 ]}
]}
]
}
